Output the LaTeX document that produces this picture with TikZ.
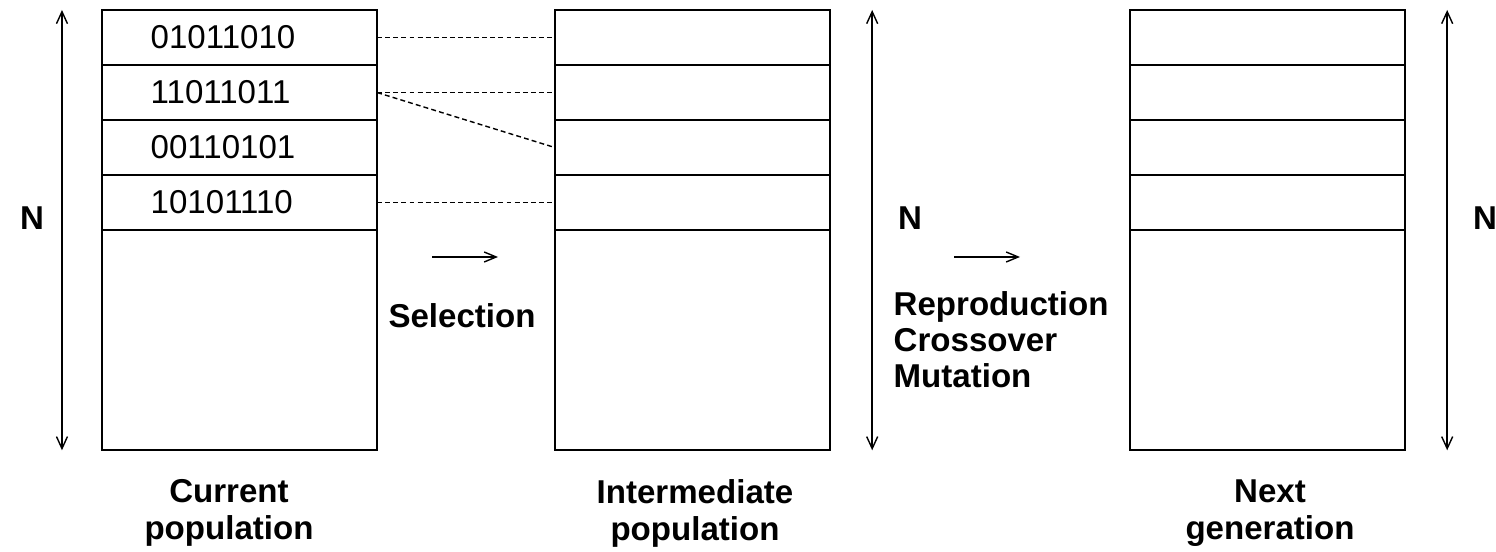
\documentclass[tikz,border=0pt]{standalone}
\usepackage{fontspec}
\setmainfont{Liberation Sans}
\usetikzlibrary{positioning,arrows.meta}
\tikzset{
  cell/.style={draw,line width=0.45pt,minimum width=2.75cm,minimum height=0.55cm,inner sep=0pt,outer sep=0pt},
  rest/.style={cell,minimum height=2.2cm},
  bits/.style={inner sep=0pt,font=\fontsize{9.4}{10.2}\selectfont},
  lbl/.style={inner sep=0pt,font=\fontsize{9.4}{10.2}\selectfont\bfseries},
  caption/.style={lbl,align=center,font=\fontsize{9.4}{10.5}\selectfont\bfseries},
  link/.style={line width=0.4pt,dash pattern=on 1.4pt off 0.9pt},
  span/.style={line width=0.4pt,{Straight Barb[length=1.2mm,width=1.1mm]}-{Straight Barb[length=1.2mm,width=1.1mm]}},
  step arrow/.style={line width=0.4pt,-{Straight Barb[length=1.2mm,width=1mm]}}
}
\begin{document}
\begin{tikzpicture}[x=0.01cm,y=-0.01cm]
\useasboundingbox (0,0) rectangle (1496,552);
% current population
\node[cell,anchor=north west] (cur1) at (102,10) {};
\node[cell,below=0pt of cur1] (cur2) {};
\node[cell,below=0pt of cur2] (cur3) {};
\node[cell,below=0pt of cur3] (cur4) {};
\node[rest,below=0pt of cur4] (cur5) {};
\node[bits,right=0.48cm of cur1.west] (s1) {01011010};
\node[bits,right=0.48cm of cur2.west] (s2) {11011011};
\node[bits,right=0.48cm of cur3.west] (s3) {00110101};
\node[bits,right=0.48cm of cur4.west] (s4) {10101110};
% intermediate population
\node[cell,anchor=north west] (mid1) at (555,10) {};
\node[cell,below=0pt of mid1] (mid2) {};
\node[cell,below=0pt of mid2] (mid3) {};
\node[cell,below=0pt of mid3] (mid4) {};
\node[rest,below=0pt of mid4] (mid5) {};
% next generation
\node[cell,anchor=north west] (nxt1) at (1130,10) {};
\node[cell,below=0pt of nxt1] (nxt2) {};
\node[cell,below=0pt of nxt2] (nxt3) {};
\node[cell,below=0pt of nxt3] (nxt4) {};
\node[rest,below=0pt of nxt4] (nxt5) {};
% selection links
\draw[link] (cur1.east) -- (mid1.west);
\draw[link] (cur2.east) -- (mid2.west);
\draw[link] (cur2.east) -- (mid3.west);
\draw[link] (cur4.east) -- (mid4.west);
% size N
\draw[span] ([xshift=-0.4cm]cur1.north west) -- ([xshift=-0.4cm]cur5.south west);
\draw[span] ([xshift=0.42cm]mid1.north east) -- ([xshift=0.42cm]mid5.south east);
\draw[span] ([xshift=0.42cm]nxt1.north east) -- ([xshift=0.42cm]nxt5.south east);
\node[lbl] (n1) at (32,218) {N};
\node[lbl] (n2) at (910,218) {N};
\node[lbl] (n3) at (1485,218) {N};
% operators
\coordinate (sa) at (432,257); \coordinate (sb) at (498,257);
\coordinate (ra) at (954,257); \coordinate (rb) at (1020,257);
\draw[step arrow] (sa) -- (sb);
\draw[step arrow] (ra) -- (rb);
\node[lbl] (sel) at (462,316) {Selection};
\node[lbl,align=left,anchor=west] (ops) at (893,340) {Reproduction\\Crossover\\Mutation};
% captions
\node[caption] (c1) at (229,513) {Current\\population};
\node[caption] (c2) at (695,513) {Intermediate\\population};
\node[caption] (c3) at (1270,513) {Next\\generation};
\end{tikzpicture}
\end{document}
